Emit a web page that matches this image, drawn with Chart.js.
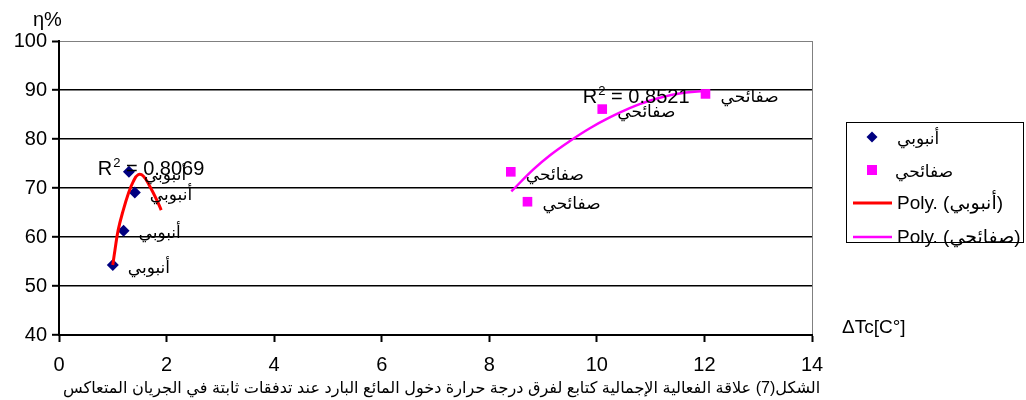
<!DOCTYPE html>
<html>
<head>
<meta charset="utf-8">
<script src="https://cdn.jsdelivr.net/npm/chart.js@4/dist/chart.umd.min.js"></script>
<style>
  html,body{margin:0;padding:0;background:#fff}
</style>
</head>
<body>
<canvas id="chart" width="1026" height="400"></canvas>
<script>
// series names (Arabic, as in the original figure)
const seriesNames = ['أنبوبي', 'صفائحي'];
const fitNames = ['Poly. (أنبوبي)', 'Poly. (صفائحي)'];

// measured points
const tubeX = [1.0, 1.2, 1.41, 1.3];
const tubeY = [54.3, 61.3, 69.1, 73.3];
const plateX = [8.4, 8.71, 10.1, 12.02];
const plateY = [73.3, 67.2, 86.1, 89.2];

// polynomial trend lines
const tubeFitX = [1.0, 1.04, 1.10, 1.195, 1.29, 1.38, 1.47, 1.57, 1.69, 1.82, 1.90];
const tubeFitY = [54.3, 57.3, 61.4, 65.5, 68.9, 71.3, 72.7, 72.4, 70.3, 67.5, 65.5];
const plateFitX = [8.41, 8.82, 9.13, 9.5, 9.87, 10.24, 10.61, 10.98, 11.48, 12.1];
const plateFitY = [69.3, 73.8, 76.7, 79.6, 82.2, 84.4, 86.3, 87.8, 89.2, 89.9];

const r2Values = ['0.8069', '0.8521'];

// axis ticks
const xTicks = [0, 2, 4, 6, 8, 10, 12, 14];
const yTicks = [40, 50, 60, 70, 80, 90, 100];

const yTitle = 'η%';
const xTitle = 'ΔTc[C°]';
const caption = 'الشكل(7) علاقة الفعالية الإجمالية كتابع لفرق درجة حرارة دخول المائع البارد عند تدفقات ثابتة في الجريان المتعاكس';

const NAVY = '#000080', MAG = '#ff00ff', RED = '#ff0000';
const FONT = '"Liberation Sans", Arial, "DejaVu Sans", sans-serif';

const pts = (xs, ys) => xs.map((x, i) => ({x: x, y: ys[i]}));

// labels, R² texts, titles, caption and legend
const overlay = {
  id: 'overlay',
  afterDatasetsDraw(chart){
    const ctx = chart.ctx;
    const xs = chart.scales.x, ys = chart.scales.y;
    ctx.save();
    ctx.fillStyle = '#000';

    // data labels = series name next to each point
    ctx.font = '17px ' + FONT;
    ctx.textAlign = 'left';
    ctx.textBaseline = 'middle';
    [0, 1].forEach(i => {
      chart.getDatasetMeta(i).data.forEach(el => {
        ctx.fillText(seriesNames[i], el.x + 15, el.y + 3);
      });
    });

    // R² labels
    const r2At = [[0.72, 72.65], [9.74, 87.4]];
    r2At.forEach((p, i) => {
      let x = xs.getPixelForValue(p[0]);
      const y = ys.getPixelForValue(p[1]);
      ctx.textBaseline = 'alphabetic';
      ctx.font = '20px ' + FONT;
      ctx.fillText('R', x, y);
      x += ctx.measureText('R').width;
      ctx.font = '13px ' + FONT;
      ctx.fillText('2', x + 1, y - 8);
      x += ctx.measureText('2').width + 1;
      ctx.font = '20px ' + FONT;
      ctx.fillText(' = ' + r2Values[i], x, y);
    });

    // axis titles
    ctx.font = '20px ' + FONT;
    ctx.textBaseline = 'alphabetic';
    ctx.fillText(yTitle, 33, 26);
    ctx.font = '19px ' + FONT;
    ctx.fillText(xTitle, 842, 333);

    // caption, sized to the original width
    let size = 16;
    ctx.font = size + 'px ' + FONT;
    const w = ctx.measureText(caption).width;
    size = size * 757 / w;
    ctx.font = size.toFixed(2) + 'px ' + FONT;
    ctx.fillText(caption, 63, 393);

    // legend
    ctx.fillStyle = '#fff';
    ctx.fillRect(846, 122, 178, 121);
    ctx.strokeStyle = '#000';
    ctx.lineWidth = 1;
    ctx.strokeRect(846.5, 122.5, 177, 120);

    ctx.fillStyle = NAVY;
    ctx.beginPath();
    ctx.moveTo(872, 131.5); ctx.lineTo(877.5, 137); ctx.lineTo(872, 142.5); ctx.lineTo(866.5, 137);
    ctx.closePath(); ctx.fill();
    ctx.fillStyle = MAG;
    ctx.fillRect(867, 165, 10, 10);

    ctx.lineWidth = 3;
    ctx.strokeStyle = RED;
    ctx.beginPath(); ctx.moveTo(853, 203); ctx.lineTo(892, 203); ctx.stroke();
    ctx.strokeStyle = MAG;
    ctx.lineWidth = 2.5;
    ctx.beginPath(); ctx.moveTo(853, 237); ctx.lineTo(892, 237); ctx.stroke();

    ctx.fillStyle = '#000';
    ctx.textBaseline = 'middle';
    ctx.font = '17px ' + FONT;
    ctx.fillText(seriesNames[0], 897, 139);
    ctx.fillText(seriesNames[1], 895, 172);
    ctx.font = '19px ' + FONT;
    ctx.fillText(fitNames[0], 897, 204);
    ctx.fillText(fitNames[1], 897, 238);
    ctx.restore();
  }
};

new Chart(document.getElementById('chart'), {
  type: 'scatter',
  data: {
    datasets: [
      {label: seriesNames[0], data: pts(tubeX, tubeY), pointStyle: 'rectRot', pointRadius: 6,
       backgroundColor: NAVY, borderColor: NAVY, borderWidth: 0, order: 2},
      {label: seriesNames[1], data: pts(plateX, plateY), pointStyle: 'rect', pointRadius: 6.8,
       backgroundColor: MAG, borderColor: MAG, borderWidth: 0, order: 2},
      {label: fitNames[0], data: pts(tubeFitX, tubeFitY), showLine: true, pointRadius: 0,
       borderColor: RED, borderWidth: 3, tension: 0.4, order: 1},
      {label: fitNames[1], data: pts(plateFitX, plateFitY), showLine: true, pointRadius: 0,
       borderColor: MAG, borderWidth: 2.5, tension: 0.4, order: 1}
    ]
  },
  options: {
    responsive: false,
    animation: false,
    devicePixelRatio: 1,
    layout: {padding: {left: 0, top: 41, right: 214, bottom: 0}},
    plugins: {legend: {display: false}, tooltip: {enabled: false}},
    scales: {
      x: {
        type: 'linear', min: 0, max: 14,
        afterBuildTicks: s => { s.ticks = xTicks.map(v => ({value: v})); },
        afterFit: s => { s.height = 65; },
        border: {display: true, color: '#000', width: 2},
        grid: {
          color: c => (c.tick && c.tick.value === 14) ? '#808080' : 'rgba(0,0,0,0)',
          lineWidth: 1, tickColor: '#000', tickLength: 7, tickWidth: 2
        },
        ticks: {color: '#000', font: {family: FONT, size: 20}, padding: 11, maxRotation: 0}
      },
      y: {
        type: 'linear', min: 40, max: 100,
        afterBuildTicks: s => { s.ticks = yTicks.map(v => ({value: v})); },
        afterFit: s => { s.width = 59; },
        border: {display: true, color: '#000', width: 2},
        grid: {
          color: c => (c.tick && c.tick.value === 100) ? '#808080' : '#000',
          lineWidth: c => (c.tick && c.tick.value === 100) ? 1 : 1.6,
          tickColor: '#000', tickLength: 7, tickWidth: 2
        },
        ticks: {color: '#000', font: {family: FONT, size: 20}, padding: 5}
      }
    }
  },
  plugins: [overlay]
});
</script>
</body>
</html>
